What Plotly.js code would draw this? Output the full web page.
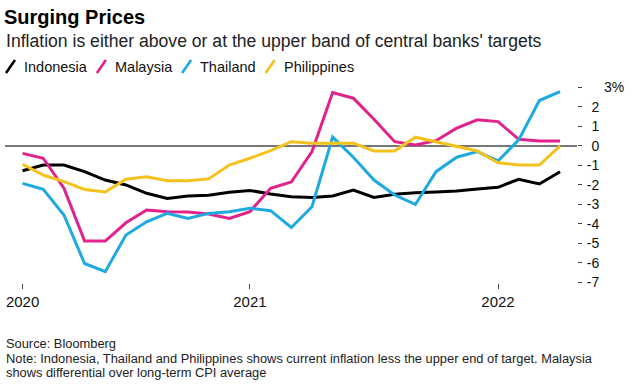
<!DOCTYPE html>
<html>
<head>
<meta charset="utf-8">
<script src="https://cdn.plot.ly/plotly-3.0.1.min.js"></script>
<style>
html,body{margin:0;padding:0;background:#fff;}
#chart{width:636px;height:385px;}
</style>
</head>
<body>
<div id="chart"></div>
<script>
// ---- data ----
const months = ['2020-02','2020-03','2020-04','2020-05','2020-06','2020-07','2020-08','2020-09','2020-10','2020-11','2020-12',
  '2021-01','2021-02','2021-03','2021-04','2021-05','2021-06','2021-07','2021-08','2021-09','2021-10','2021-11','2021-12',
  '2022-01','2022-02','2022-03','2022-04'];
const seriesNames = ['Indonesia','Malaysia','Thailand','Philippines'];
const seriesColors = ['#000000','#e2228c','#1fa9e1','#f4c21c'];
const indonesia = [-1.27,-0.98,-0.98,-1.32,-1.75,-2.0,-2.43,-2.69,-2.57,-2.53,-2.38,-2.28,-2.47,-2.6,-2.64,-2.57,-2.26,-2.64,-2.48,-2.4,-2.36,-2.31,-2.21,-2.12,-1.71,-1.95,-1.32];
const malaysia = [-0.38,-0.63,-2.17,-4.88,-4.88,-3.94,-3.29,-3.37,-3.39,-3.49,-3.72,-3.37,-2.17,-1.85,-0.29,2.74,2.45,1.37,0.22,0.05,0.27,0.91,1.34,1.25,0.34,0.26,0.26];
const thailand = [-1.92,-2.23,-3.54,-6.03,-6.45,-4.57,-3.89,-3.46,-3.72,-3.46,-3.37,-3.2,-3.32,-4.18,-3.12,0.45,-0.58,-1.75,-2.52,-3.0,-1.32,-0.58,-0.29,-0.77,0.31,2.33,2.79];
const philippines = [-0.94,-1.49,-1.83,-2.23,-2.36,-1.71,-1.58,-1.78,-1.78,-1.69,-0.98,-0.63,-0.24,0.22,0.14,0.14,0.14,-0.26,-0.26,0.45,0.22,0.0,-0.26,-0.86,-0.98,-0.98,0.0];
const seriesValues = [indonesia, malaysia, thailand, philippines];
const xTickVals = ['2020-02','2021-01','2022-01'];
const xTickText = ['2020','2021','2022'];
const yTickVals = [-7,-6,-5,-4,-3,-2,-1,0,1,2,3];
const yTickText = ['-7','-6','-5','-4','-3','-2','-1','0','1','2','3%'];
const titleText = 'Surging Prices';
const subtitleText = "Inflation is either above or at the upper band of central banks' targets";
const sourceText = 'Source: Bloomberg';
const noteLines = ['Note: Indonesia, Thailand and Philippines shows current inflation less the upper end of target. Malaysia',
  'shows differential over long-term CPI average'];

// ---- layout helpers ----
const W = 636, H = 385;
const M = {l:5, r:59, t:82, b:102};
const PW = W - M.l - M.r, PH = H - M.t - M.b;
const px = x => (x - M.l) / PW;
const py = y => 1 - (y - M.t) / PH;
const FONT = 'Liberation Sans, Arial, Helvetica, sans-serif';
const LEGEND_SIZE = 14.5;

const ctx = document.createElement('canvas').getContext('2d');
ctx.font = LEGEND_SIZE + 'px "Liberation Sans", Arial, sans-serif';

const traces = seriesNames.map((n, i) => ({
  type: 'scatter', mode: 'lines', name: n,
  x: months, y: seriesValues[i],
  line: {color: seriesColors[i], width: 3},
  showlegend: false, hoverinfo: 'skip'
}));

// invisible padding so digits right-align with the negative labels
const hide = s => '<span style="color:rgba(0,0,0,0)">' + s + '</span>';
const yText = yTickText.map(t => t.startsWith('-') ? t : (t.endsWith('%') ? hide('-0-') + t : hide('-') + t));

const shapes = [];
const annotations = [];
let lx = 6;
seriesNames.forEach((n, i) => {
  shapes.push({type:'line', xref:'paper', yref:'paper',
    x0: px(lx), y0: py(73), x1: px(lx + 9), y1: py(60),
    line:{color: seriesColors[i], width: 2.6}});
  annotations.push({xref:'paper', yref:'paper', x: px(lx + 16), y: py(66.5),
    xanchor:'left', yanchor:'middle', showarrow:false, text:n,
    font:{family:FONT, size:LEGEND_SIZE, color:'#111'}});
  lx += 16 + ctx.measureText(n).width + 12;
});

annotations.push({xref:'paper', yref:'paper', x: px(4), y: py(41), xanchor:'left', yanchor:'middle',
  showarrow:false, text: subtitleText, font:{family:FONT, size:17.6, color:'#222'}});
annotations.push({xref:'paper', yref:'paper', x: px(4), y: py(343.5), xanchor:'left', yanchor:'middle',
  showarrow:false, text: sourceText, font:{family:FONT, size:12.85, color:'#222'}});
noteLines.forEach((t, k) => annotations.push({xref:'paper', yref:'paper', x: px(4), y: py(358 + 14*k),
  xanchor:'left', yanchor:'middle', showarrow:false, text: t, font:{family:FONT, size:12.85, color:'#222'}}));

const layout = {
  width: W, height: H,
  margin: M,
  paper_bgcolor:'#fff', plot_bgcolor:'#fff',
  showlegend:false,
  title: {text: titleText, x: 4/W, xanchor:'left', xref:'container',
    y: 1 - 17/H, yanchor:'middle', yref:'container',
    font:{family:FONT, size:20, color:'#000', weight:700}},
  xaxis: {type:'category', range:[-0.85, 26.82], tickvals: xTickVals, ticktext: xTickText,
    ticks:'outside', ticklen:5, tickwidth:1, tickcolor:'#444', showgrid:false, showline:false, zeroline:false,
    tickfont:{family:FONT, size:15, color:'#111'}, fixedrange:true},
  yaxis: {side:'right', range:[-7.03, 3.28], tickvals: yTickVals, ticktext: yText,
    ticks:'outside', ticklen:4, tickwidth:1, tickcolor:'#444', showgrid:false, showline:false,
    zeroline:true, zerolinecolor:'#777', zerolinewidth:1.3, ticklabelstandoff:2,
    tickfont:{family:FONT, size:14, color:'#111'}, fixedrange:true},
  shapes: shapes,
  annotations: annotations
};

Plotly.newPlot('chart', traces, layout, {displayModeBar:false, staticPlot:true});
</script>
</body>
</html>
